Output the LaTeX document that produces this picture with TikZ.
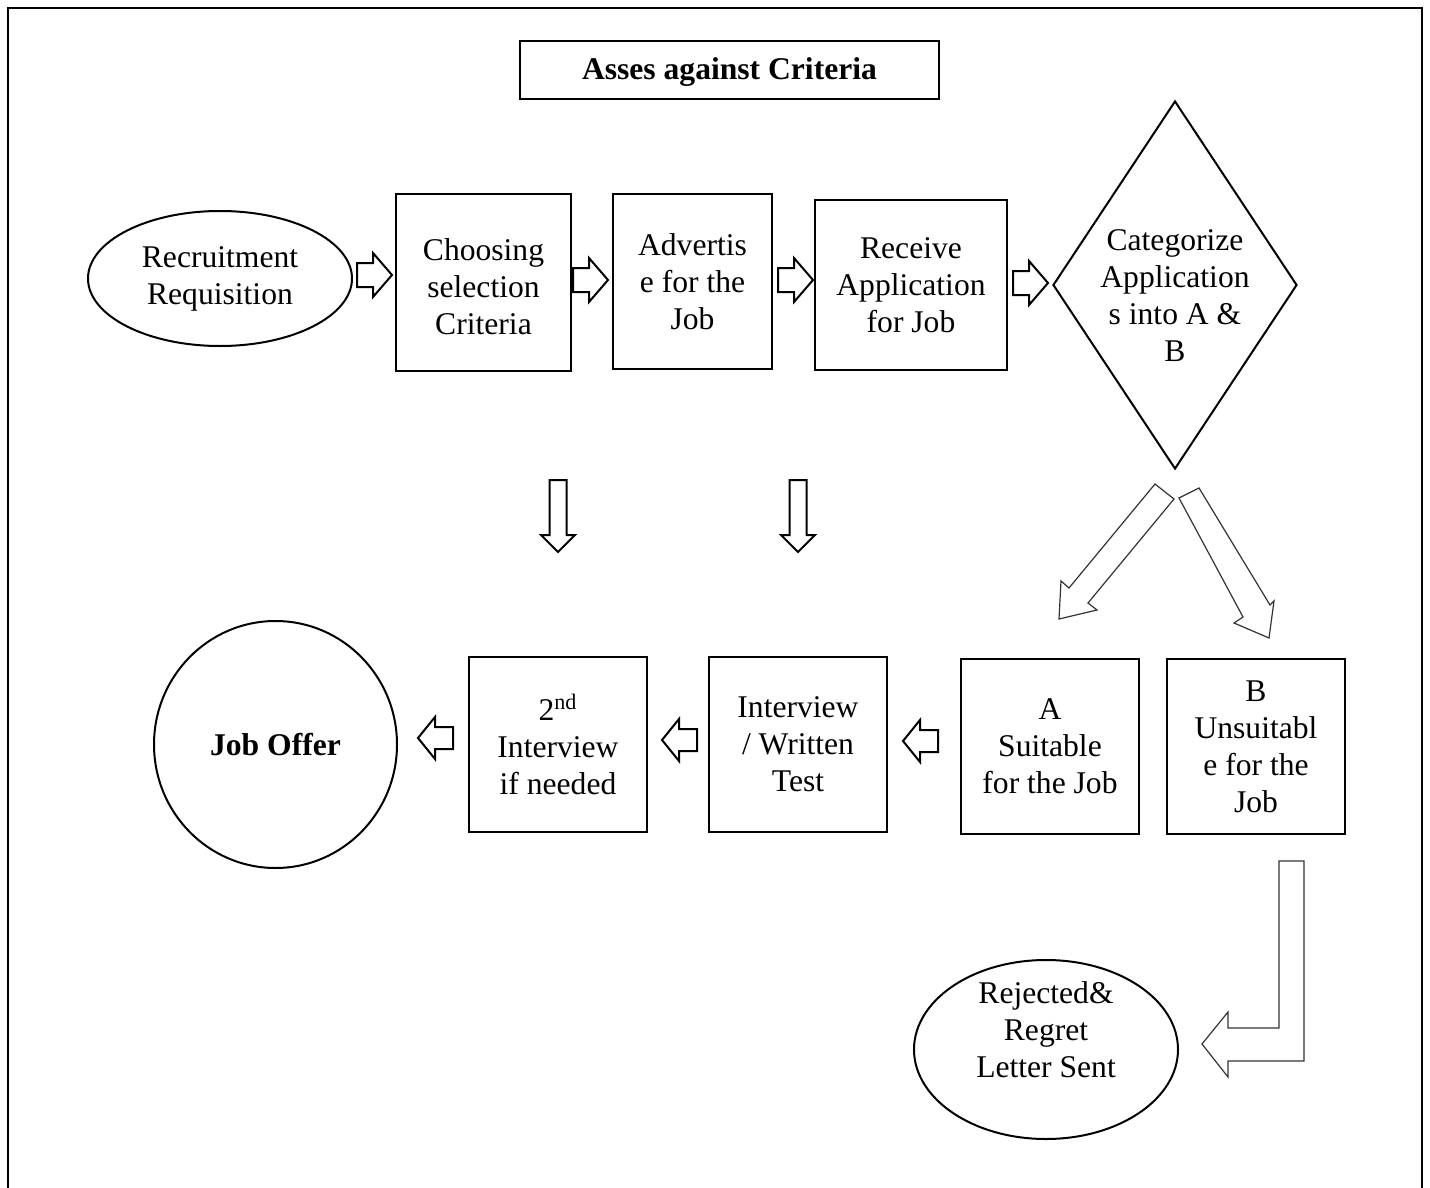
\documentclass[tikz,border=0pt]{standalone}
\usepackage{fontspec}
\setmainfont{Liberation Serif}
\usetikzlibrary{shapes.geometric}
\tikzset{
  txt/.style={font=\fontsize{15.8}{18.5}\selectfont, align=center, inner sep=0pt},
  boxn/.style={draw, line width=1pt, rectangle, txt},
  ovaln/.style={draw, line width=1pt, ellipse, txt},
  blockarrow/.style={draw, line width=1pt, line join=miter},
  thinarrow/.style={draw=black!80, line width=0.6pt, line join=miter},
  rarr/.pic={\path[blockarrow] (0,-12) -- (16,-12) -- (16,-22) -- (35,0) -- (16,22) -- (16,12) -- (0,12) -- cycle;},
  larr/.pic={\path[blockarrow] (0,0) -- (17,-21) -- (17,-11) -- (35,-11) -- (35,11) -- (17,11) -- (17,21) -- cycle;},
  darr/.pic={\path[blockarrow] (-8.5,0) -- (8.5,0) -- (8.5,55) -- (17,55) -- (0,72) -- (-17,55) -- (-8.5,55) -- cycle;}
}
\begin{document}
\begin{tikzpicture}[x=0.5pt,y=-0.5pt]
\useasboundingbox (0,0) rectangle (1430,1188);
% outer frame
\draw[line width=0.7pt] (8,1190) -- (8,8) -- (1422,8) -- (1422,1190);
% title
\node[draw, line width=1pt, minimum width=209.5pt, minimum height=29pt] (title) at (729.5,70) {};
\node[txt, font=\fontsize{15.8}{18.5}\selectfont\bfseries] (titletxt) at (729.5,72) {Asses against Criteria};
% top row
\node[ovaln, minimum width=132pt, minimum height=67.5pt] (req) at (220,278.5) {Recruitment\\Requisition};
\node[draw, line width=1pt, minimum width=87.5pt, minimum height=88.5pt] (crit) at (483.5,282.5) {};
\node[txt] (crittxt) at (483.5,287) {Choosing\\selection\\Criteria};
\node[boxn, minimum width=79.5pt, minimum height=87.5pt] (adv) at (692.5,281.5) {Advertis\\e for the\\Job};
\node[boxn, minimum width=96pt, minimum height=85pt] (recv) at (911,285) {Receive\\Application\\for Job};
\node[diamond, draw, line width=1pt, aspect=0.663, minimum width=122pt, minimum height=184pt, inner sep=0pt] (cat) at (1175,285) {};
\node[txt] (cattxt) at (1175,296) {Categorize\\Application\\s into A \&\\B};
% bottom row
\node[ovaln, minimum width=121.5pt, minimum height=123.5pt, font=\fontsize{15.8}{18.5}\selectfont\bfseries] (offer) at (275.5,744.5) {Job Offer};
\node[boxn, minimum width=89pt, minimum height=87.5pt] (second) at (558,744.5) {2\textsuperscript{nd}\\Interview\\if needed};
\node[boxn, minimum width=89pt, minimum height=87.5pt] (inter) at (798,744.5) {Interview\\/ Written\\Test};
\node[boxn, minimum width=89pt, minimum height=87.5pt] (suit) at (1050,746.5) {A\\Suitable\\for the Job};
\node[boxn, minimum width=89pt, minimum height=87.5pt] (unsuit) at (1256,746.5) {B\\Unsuitabl\\e for the\\Job};
\node[draw, line width=1pt, ellipse, minimum width=132pt, minimum height=89.5pt] (rej) at (1046,1049.5) {};
\node[txt] (rejtxt) at (1046,1029.5) {Rejected\&\\Regret\\Letter Sent};
% block arrows
\pic at (357,275) {rarr};
\pic at (573,280) {rarr};
\pic at (778,280) {rarr};
\pic at (1013,283) {rarr};
\pic at (418,738) {larr};
\pic at (662,740) {larr};
\pic at (903,741) {larr};
\pic at (558,480) {darr};
\pic at (798,480) {darr};
% diagonal arrows
\path[thinarrow] (1155,484) -- (1174,499) -- (1088,603) -- (1097,610) -- (1059,619) -- (1061,581) -- (1069,588) -- cycle;
\path[thinarrow] (1179,498) -- (1199,488) -- (1270,605) -- (1274,601) -- (1269,638) -- (1234,623) -- (1243,617) -- cycle;
% L-shaped arrow
\path[thinarrow] (1279,861) -- (1304,861) -- (1304,1061) -- (1228,1061) -- (1228,1077) -- (1202,1044) -- (1228,1012) -- (1228,1028) -- (1279,1028) -- cycle;
\end{tikzpicture}
\end{document}
